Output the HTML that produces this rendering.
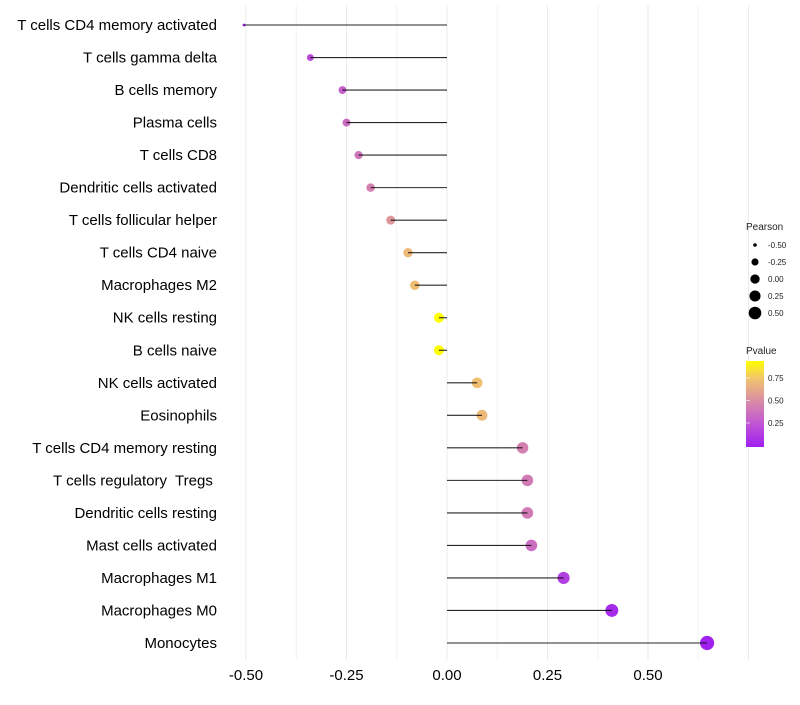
<!DOCTYPE html>
<html><head><meta charset="utf-8"><style>
body{margin:0;background:#fff;font-family:"Liberation Sans",sans-serif}
text{white-space:pre}
</style></head><body>
<svg id="c" width="800" height="700" xmlns="http://www.w3.org/2000/svg">
<defs><linearGradient id="pg" x1="0" y1="1" x2="0" y2="0">
<stop offset="0" stop-color="#A020F0"/><stop offset="0.27" stop-color="#C055D5"/><stop offset="0.53" stop-color="#D98BA6"/><stop offset="0.8" stop-color="#F2C56C"/><stop offset="1" stop-color="#FFFF00"/></linearGradient></defs>
</svg>
<script>
const categories=["T cells CD4 memory activated","T cells gamma delta","B cells memory","Plasma cells","T cells CD8","Dendritic cells activated","T cells follicular helper","T cells CD4 naive","Macrophages M2","NK cells resting","B cells naive","NK cells activated","Eosinophils","T cells CD4 memory resting","T cells regulatory  Tregs ","Dendritic cells resting","Mast cells activated","Macrophages M1","Macrophages M0","Monocytes"];
const pearson=[-0.505,-0.34,-0.26,-0.25,-0.22,-0.19,-0.14,-0.097,-0.08,-0.02,-0.02,0.075,0.087,0.188,0.2,0.2,0.21,0.29,0.41,0.647];
const pvalue=[0.01,0.2,0.3,0.35,0.4,0.45,0.55,0.7,0.72,0.94,0.94,0.72,0.7,0.45,0.42,0.42,0.36,0.15,0.05,0.01];
const xTicks=[-0.5,-0.25,0,0.25,0.5];
const sizeLegend=[-0.5,-0.25,0,0.25,0.5];
const colorTicks=[0.25,0.5,0.75];
const NS="http://www.w3.org/2000/svg",svg=document.getElementById('c');
const x=v=>447+v*402;
const y=i=>25+i*(618/19);
const r=v=>Math.sqrt(Math.max(1.5,19.1+33.75*v));
const rp=v=>v<-0.45?r(v):r(v)+0.7;
const stops=[[0,[160,32,240]],[0.25,[192,85,213]],[0.5,[217,139,166]],[0.75,[242,197,108]],[0.94,[255,255,0]]];
function col(p){if(p>=0.94)return'rgb(255,255,0)';for(let k=0;k<stops.length-1;k++){const[a,ca]=stops[k],[b,cb]=stops[k+1];if(p<=b){const t=(p-a)/(b-a);return'rgb('+ca.map((c,j)=>Math.round(c+(cb[j]-c)*t)).join(',')+')';}}}
function el(t,a,txt){const e=document.createElementNS(NS,t);for(const k in a)e.setAttribute(k,a[k]);if(txt!==undefined)e.textContent=txt;svg.appendChild(e);return e;}
for(let v=-0.5;v<=0.751;v+=0.125){const g=el('line',{x1:x(v),x2:x(v),y1:5,y2:660,stroke:Math.abs(v*4-Math.round(v*4))<1e-6?'#ebebeb':'#f4f4f4','stroke-width':1});

}
xTicks.forEach(v=>{const t=el('text',{x:x(v),y:680,'text-anchor':'middle','font-size':15,fill:'#000'},v.toFixed(2));

});
categories.forEach((c,i)=>{const t=el('text',{x:217,y:y(i)+5,'text-anchor':'end','font-size':15,fill:'#000'},c);


const d=el('circle',{cx:x(pearson[i]),cy:y(i),r:rp(pearson[i]),fill:col(pvalue[i])});


const l=el('line',{x1:x(0),x2:x(pearson[i]),y1:y(i),y2:y(i),stroke:'#000','stroke-width':1.1,'stroke-opacity':0.85});

});
let t=el('text',{x:746,y:230,'font-size':10,fill:'#222'},'Pearson');


sizeLegend.forEach((v,k)=>{const cy=245+k*17;const c=el('circle',{cx:755,cy:cy,r:r(v)+0.3,fill:'#000'});


const tt=el('text',{x:768,y:cy+3,'font-size':8,fill:'#222'},v.toFixed(2));

});
t=el('text',{x:746,y:354,'font-size':10,fill:'#222'},'Pvalue');


const bar=el('rect',{x:746,y:361,width:18,height:86,fill:'url(#pg)'});


colorTicks.forEach(v=>{const cy=445.5-v*90;const l=el('line',{x1:746,x2:750,y1:cy,y2:cy,stroke:'#fff','stroke-opacity':0.6});


const tt=el('text',{x:768,y:cy+3,'font-size':8,fill:'#222'},v.toFixed(2));

});
</script>
</body></html>
